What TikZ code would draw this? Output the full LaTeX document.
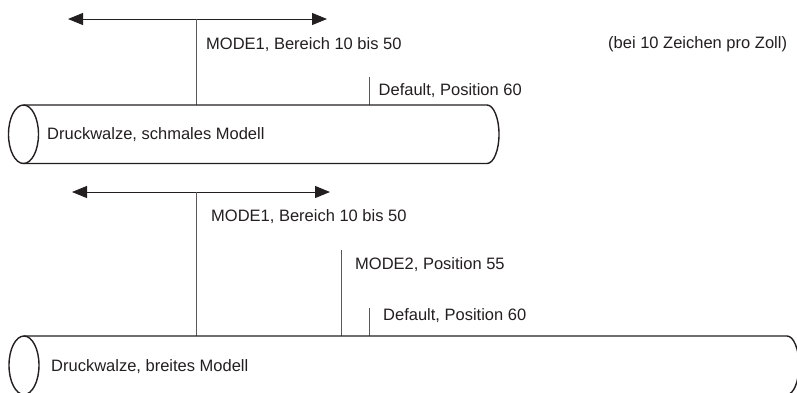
\documentclass[tikz,border=0pt]{standalone}
\usepackage{fontspec}
\setmainfont{Liberation Sans}
\usetikzlibrary{arrows.meta}
\definecolor{inkline}{RGB}{35,31,32}
\definecolor{tickline}{RGB}{90,88,89}
\tikzstyle{lbl} = [anchor=west, inner sep=0pt, text=inkline, font=\fontsize{16.5}{20}\selectfont]
\tikzstyle{walze} = [draw=inkline, line width=1.4pt]
\tikzstyle{spanarrow} = [draw=inkline, line width=1pt, {Triangle[length=15pt,width=12pt]}-{Triangle[length=15pt,width=12pt]}]
\tikzstyle{tickline} = [draw=tickline, line width=1pt]

\begin{document}
\begin{tikzpicture}[x=1pt,y=-1pt]
	
	\useasboundingbox (0,0) rectangle (797,392);
	\clip (0,0) rectangle (797,392);
	
	% schmales Modell
	\coordinate (rangeAl) at (68,19);
	\coordinate (rangeAr) at (327,19);
	\coordinate (rangeAm) at (196.5,19);
	\coordinate (rollAm) at (196.5,105);
	\coordinate (defAt) at (369.5,77);
	\coordinate (defAb) at (369.5,105);
	\draw[spanarrow] (rangeAl) -- (rangeAr);
	\draw[tickline] (rangeAm) -- (rollAm);
	\draw[tickline] (defAt) -- (defAb);
	\draw[walze] (23.5,105) -- (487,105) arc[start angle=-90, end angle=90, x radius=12, y radius=29.25] -- (23.5,163.5);
	\draw[walze] (23.5,134.25) ellipse[x radius=15, y radius=29.25];
	\node[lbl] (modeA) at (206,44.5) {MODE1, Bereich 10 bis 50};
	\node[lbl] (defA) at (378.5,90.5) {Default, Position 60};
	\node[lbl] (rollA) at (47,135) {Druckwalze, schmales Modell};
	\node[lbl] (note) at (608,44.5) {(bei 10 Zeichen pro Zoll)};
	
	% breites Modell
	\coordinate (rangeBl) at (72,192);
	\coordinate (rangeBr) at (330,192);
	\coordinate (rangeBm) at (196.5,192);
	\coordinate (rollBm) at (196.5,336);
	\coordinate (modeBt) at (341,250);
	\coordinate (modeBb) at (341,336);
	\coordinate (defBt) at (369.5,308);
	\coordinate (defBb) at (369.5,336);
	\draw[spanarrow] (rangeBl) -- (rangeBr);
	\draw[tickline] (rangeBm) -- (rollBm);
	\draw[tickline] (modeBt) -- (modeBb);
	\draw[tickline] (defBt) -- (defBb);
	\draw[walze] (23.5,336) -- (787,336) arc[start angle=-90, end angle=90, x radius=12, y radius=29.25] -- (23.5,394.5);
	\draw[walze] (24,365.25) ellipse[x radius=15, y radius=29.25];
	\node[lbl] (modeB) at (211,216.5) {MODE1, Bereich 10 bis 50};
	\node[lbl] (modeC) at (355,265) {MODE2, Position 55};
	\node[lbl] (defB) at (383,315.5) {Default, Position 60};
	\node[lbl] (rollB) at (51,366.5) {Druckwalze, breites Modell};
\end{tikzpicture}
\end{document}
